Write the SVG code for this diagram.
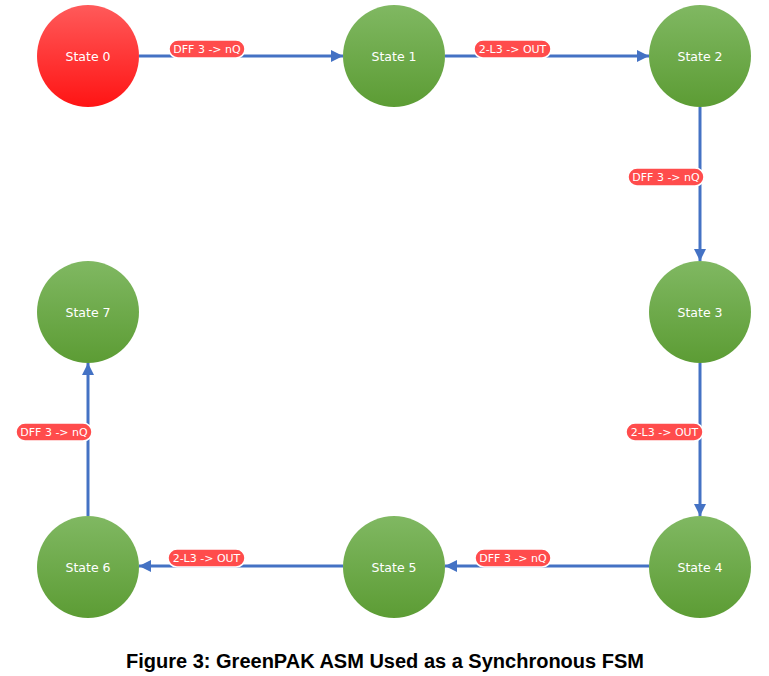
<svg xmlns="http://www.w3.org/2000/svg" width="769" height="676" viewBox="0 0 769 676">
<defs>
<linearGradient id="gg" x1="0" y1="0" x2="0" y2="1"><stop offset="0" stop-color="#80B862"/><stop offset="1" stop-color="#5C9C34"/></linearGradient>
<linearGradient id="rg" x1="0" y1="0" x2="0" y2="1"><stop offset="0" stop-color="#FF5A5A"/><stop offset="1" stop-color="#FF1414"/></linearGradient>
<marker id="ah" viewBox="0 0 10 10" refX="10" refY="5" markerWidth="4" markerHeight="4" orient="auto" markerUnits="strokeWidth"><path d="M0,0 L10,5 L0,10 z" fill="#4472C4"/></marker>
<style>
.st text{font-family:"DejaVu Sans",sans-serif;font-size:12.5px;fill:#fff;text-anchor:middle;}
.lb rect{fill:#FF4C4C;stroke:#fff;stroke-width:1.5;}
.lb text{font-family:"DejaVu Sans",sans-serif;font-size:11px;fill:#fff;text-anchor:middle;}
.cn line{stroke:#4472C4;stroke-width:3;marker-end:url(#ah);}
</style>
</defs>
<rect width="769" height="676" fill="#fff"/>
<g id="connectors" class="cn">
<line x1="139" y1="56" x2="343" y2="56"/>
<line x1="445" y1="56" x2="649" y2="56"/>
<line x1="700" y1="107" x2="700" y2="261"/>
<line x1="700" y1="363" x2="700" y2="516"/>
<line x1="649" y1="566" x2="445" y2="566"/>
<line x1="343" y1="566" x2="139" y2="566"/>
<line x1="88" y1="516" x2="88" y2="363"/>
</g>
<g id="labels" class="lb">
<g id="label-0-1"><rect x="169" y="40" width="76" height="18" rx="9"/><text x="207" y="53">DFF 3 -&gt; nQ</text></g>
<g id="label-1-2"><rect x="474" y="40" width="77" height="18" rx="9"/><text x="512.5" y="53">2-L3 -&gt; OUT</text></g>
<g id="label-2-3"><rect x="628" y="168" width="76" height="18" rx="9"/><text x="666" y="181">DFF 3 -&gt; nQ</text></g>
<g id="label-3-4"><rect x="626" y="423" width="77" height="18" rx="9"/><text x="664.5" y="436">2-L3 -&gt; OUT</text></g>
<g id="label-4-5"><rect x="475" y="549" width="76" height="18" rx="9"/><text x="513" y="562">DFF 3 -&gt; nQ</text></g>
<g id="label-5-6"><rect x="168" y="549" width="77" height="18" rx="9"/><text x="206.5" y="562">2-L3 -&gt; OUT</text></g>
<g id="label-6-7"><rect x="16" y="423" width="76" height="18" rx="9"/><text x="54" y="436">DFF 3 -&gt; nQ</text></g>
</g>
<g id="state0" class="st"><circle cx="88" cy="56" r="51" fill="url(#rg)"/><text x="88" y="61">State 0</text></g>
<g id="state1" class="st"><circle cx="394" cy="56" r="51" fill="url(#gg)"/><text x="394" y="61">State 1</text></g>
<g id="state2" class="st"><circle cx="700" cy="56" r="51" fill="url(#gg)"/><text x="700" y="61">State 2</text></g>
<g id="state3" class="st"><circle cx="700" cy="312" r="51" fill="url(#gg)"/><text x="700" y="317">State 3</text></g>
<g id="state4" class="st"><circle cx="700" cy="567" r="51" fill="url(#gg)"/><text x="700" y="572">State 4</text></g>
<g id="state5" class="st"><circle cx="394" cy="567" r="51" fill="url(#gg)"/><text x="394" y="572">State 5</text></g>
<g id="state6" class="st"><circle cx="88" cy="567" r="51" fill="url(#gg)"/><text x="88" y="572">State 6</text></g>
<g id="state7" class="st"><circle cx="88" cy="312" r="51" fill="url(#gg)"/><text x="88" y="317">State 7</text></g>
<text x="385" y="668" font-family="Liberation Sans, Arial, sans-serif" font-size="20" font-weight="bold" text-anchor="middle" fill="#000">Figure 3: GreenPAK ASM Used as a Synchronous FSM</text>
</svg>
